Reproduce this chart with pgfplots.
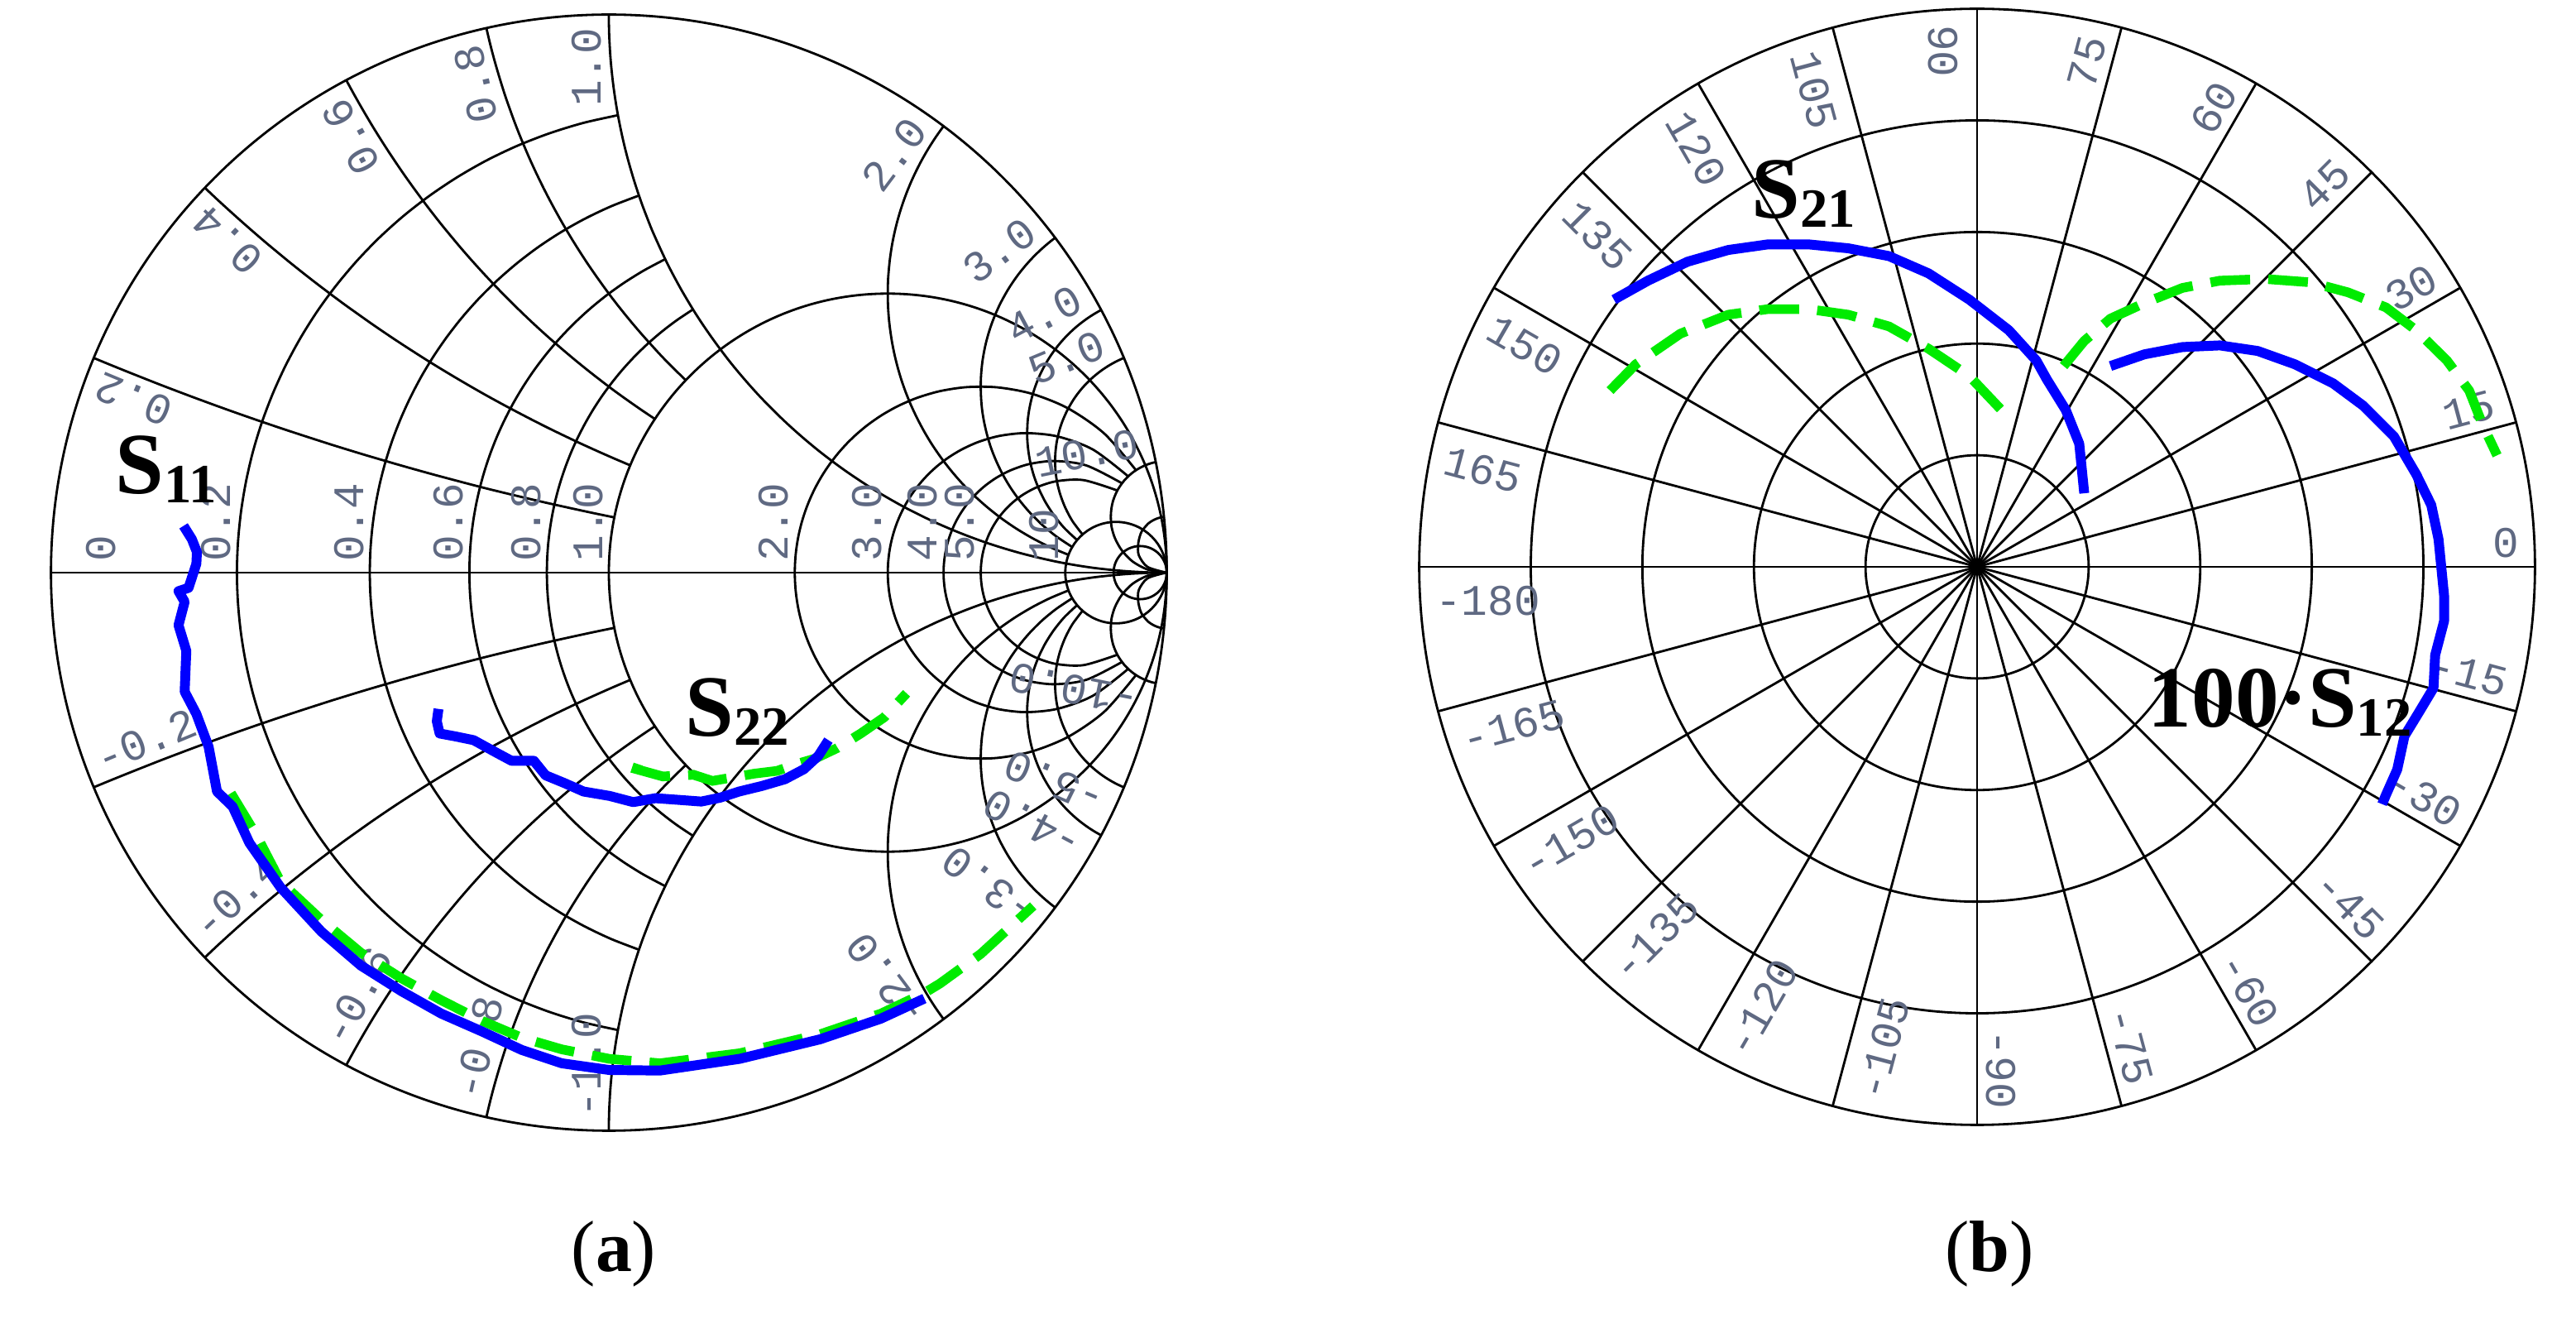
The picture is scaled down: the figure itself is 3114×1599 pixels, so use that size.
\documentclass[border=0pt]{standalone}
\usepackage{fontspec}
\setmainfont{Liberation Serif}
\setmonofont{Liberation Mono}
\usepackage{pgfplots}
\pgfplotsset{compat=1.18}
\definecolor{ticklab}{RGB}{95,105,130}
\definecolor{datablue}{RGB}{0,0,255}
\definecolor{datagreen}{RGB}{0,235,0}
\newcommand{\sname}[2]{{\fontsize{30}{30}\selectfont\bfseries #1\raisebox{-3pt}{\fontsize{19}{19}\selectfont #2}}}
\pgfplotsset{
  meas/.style={datablue,line width=3.4pt,line join=round},
  model/.style={datagreen,line width=3.3pt,dash pattern=on 0.48cm off 0.22cm}}

\begin{document}
\begin{tikzpicture}[x=0.01cm,y=0.01cm,
  declare function={
    rcre(\u,\v)=((\u)*(\u)-1+(\v)*(\v))/(((\u)+1)*((\u)+1)+(\v)*(\v));
    rcim(\u,\v)=2*(\v)/(((\u)+1)*((\u)+1)+(\v)*(\v));
    xare(\u,\v)=((\u)*(\u)-(1-(\u))*(1-(\u))*(1-(\v)*(\v)))/(1+(\v)*(\v)*(1-(\u))*(1-(\u)));
    xaim(\u,\v)=2*(\v)*(1-(\u))*(1-(\u))/(1+(\v)*(\v)*(1-(\u))*(1-(\u)));
  },
  lab/.style={font=\ttfamily\fontsize{15}{15}\selectfont,text=ticklab,inner xsep=0.08cm,inner ysep=0.08cm}]
\useasboundingbox (0,0) rectangle (3114,1599);

% ---- Smith chart grid (a)
\begin{scope}[shift={(736,907)},x=6.74cm,y=6.74cm,line width=0.8pt]
  \draw (0,0) circle[radius=1];
  \draw (-1,0) -- (1,0);
  \foreach \r in {0.2,0.4,0.6,0.8}
    \draw plot[domain=-45:45,samples=41,smooth,variable=\s] ({rcre(\r,tan(\s))},{rcim(\r,tan(\s))});
  \draw (0.5,0) circle[radius=0.5];
  \foreach \r in {2,3,4,5}
    \draw plot[domain=-84.29:84.29,samples=61,smooth,variable=\s] ({rcre(\r,tan(\s))},{rcim(\r,tan(\s))});
  \foreach \r in {10,20}
    \draw ({\r/(1+\r)},0) circle[radius={1/(1+\r)}];
  \foreach \q in {0.2,0.4,0.6,0.8,-0.2,-0.4,-0.6,-0.8}
    \draw plot[domain=0:0.5,samples=31,smooth,variable=\t] ({xare(\t,\q)},{xaim(\t,\q)});
  \foreach \q in {2,3,4,5,-2,-3,-4,-5}
    \draw plot[domain=0:0.909,samples=51,smooth,variable=\t] ({xare(\t,\q)},{xaim(\t,\q)});
  \foreach \q in {1,-1,10,-10,20,-20}
    \draw plot[domain=0:1,samples=61,smooth,variable=\t] ({xare(\t,\q)},{xaim(\t,\q)});
  % reactance labels
  \foreach \a/\l in {157.4/0.2,136.4/0.4,118.1/0.6,102.7/0.8,90/1.0,53.1/2.0,36.9/3.0,28.1/4.0,22.6/5.0,11.4/10.0}{
    \node[lab,rotate=\a,anchor=south east] at (\a:0.99) {\l};
    \node[lab,rotate=180-\a,anchor=south west] at (-\a:0.99) {-\l};
  }
  % resistance labels
  \foreach \g/\l in {-0.873/0,-0.6667/0.2,-0.4286/0.4,-0.25/0.6,-0.1111/0.8,0/1.0,0.3333/2.0,0.5/3.0,0.6/4.0,0.6667/5.0,0.8182/10}
    \node[lab,rotate=90,anchor=south west,inner xsep=0.12cm,inner ysep=0.06cm] at (\g,0) {\l};
\end{scope}

% ---- polar grid (b)
\begin{scope}[shift={(2390,914)},x=6.74cm,y=6.74cm,line width=0.8pt]
  \foreach \k in {0.2,0.4,0.6,0.8,1}
    \draw (0,0) circle[radius=\k];
  \foreach \a in {0,15,...,345}
    \draw (0,0) -- (\a:1);
  \foreach \a in {-90,-75,...,75}
    \node[lab,rotate=\a,anchor=south east,inner ysep=0.1cm] at (\a:0.985) {\a};
  \foreach \a in {90,105,...,165,-165,-150,...,-105}
    \node[lab,rotate=\a+180,anchor=north west,inner ysep=0.22cm] at (\a:0.985) {\a};
  \node[lab,rotate=0,anchor=north west,inner ysep=0.22cm] at (180:0.985) {-180};
\end{scope}

% ---- data (a): S11 and S22, measured (solid) and model (dashed)
\begin{axis}[at={(7.36cm,9.07cm)},anchor=center,x=6.74cm,y=6.74cm,
  xmin=-1,xmax=1,ymin=-1,ymax=1,hide axis,clip=false,no markers]
\addplot[model] coordinates {
(-0.678,-0.396) (-0.632,-0.472) (-0.589,-0.555) (-0.516,-0.623) (-0.445,-0.682)
(-0.372,-0.728) (-0.301,-0.767) (-0.228,-0.804) (-0.157,-0.834) (-0.085,-0.855)
(0.000,-0.872) (0.091,-0.880) (0.234,-0.862) (0.378,-0.828) (0.487,-0.791)
(0.565,-0.754) (0.593,-0.737) (0.666,-0.684) (0.760,-0.598)};
\addplot[meas] coordinates {
(-0.763,0.083) (-0.748,0.059) (-0.739,0.036) (-0.740,0.015) (-0.754,-0.028)
(-0.772,-0.034) (-0.761,-0.053) (-0.772,-0.095) (-0.758,-0.141) (-0.761,-0.214)
(-0.740,-0.254) (-0.718,-0.313) (-0.703,-0.393) (-0.675,-0.420) (-0.645,-0.485)
(-0.589,-0.565) (-0.516,-0.644) (-0.445,-0.705) (-0.372,-0.751) (-0.301,-0.791)
(-0.228,-0.823) (-0.157,-0.856) (-0.085,-0.880) (0.000,-0.892) (0.091,-0.893)
(0.234,-0.872) (0.378,-0.837) (0.487,-0.800) (0.565,-0.764)};
\addplot[model] coordinates {
(0.052,-0.344) (0.049,-0.353) (0.096,-0.366) (0.151,-0.363) (0.185,-0.374)
(0.220,-0.368) (0.260,-0.361) (0.301,-0.356) (0.335,-0.344) (0.369,-0.334)
(0.409,-0.315) (0.451,-0.289) (0.493,-0.260) (0.533,-0.217)};
\addplot[meas] coordinates {
(-0.306,-0.245) (-0.309,-0.267) (-0.304,-0.289) (-0.277,-0.294) (-0.243,-0.301)
(-0.203,-0.323) (-0.175,-0.338) (-0.135,-0.338) (-0.114,-0.364) (-0.080,-0.378)
(-0.046,-0.393) (0.001,-0.401) (0.043,-0.412) (0.083,-0.405) (0.125,-0.408)
(0.165,-0.411) (0.199,-0.404) (0.233,-0.393) (0.274,-0.383) (0.315,-0.371)
(0.349,-0.353) (0.375,-0.329) (0.393,-0.301)};
\end{axis}

% ---- data (b): S21 and 100*S12
\begin{axis}[at={(23.90cm,9.14cm)},anchor=center,x=6.74cm,y=6.74cm,
  xmin=-1,xmax=1,ymin=-1,ymax=1,hide axis,clip=false,no markers]
\addplot[model] coordinates {
(-0.660,0.315) (-0.614,0.362) (-0.534,0.417) (-0.448,0.451) (-0.377,0.461)
(-0.304,0.461) (-0.233,0.451) (-0.160,0.430) (-0.089,0.390) (-0.016,0.341)
(0.055,0.266)};
\addplot[meas] coordinates {
(-0.653,0.478) (-0.592,0.512) (-0.521,0.546) (-0.448,0.567) (-0.377,0.577)
(-0.304,0.577) (-0.233,0.570) (-0.160,0.556) (-0.089,0.525) (-0.016,0.478)
(0.055,0.423) (0.104,0.369) (0.123,0.335) (0.157,0.280) (0.181,0.220)
(0.190,0.131)};
\addplot[model] coordinates {
(0.153,0.359) (0.190,0.404) (0.237,0.444) (0.298,0.472) (0.366,0.499)
(0.433,0.512) (0.515,0.515) (0.596,0.509) (0.663,0.491) (0.731,0.464)
(0.785,0.423) (0.840,0.369) (0.880,0.315) (0.904,0.254) (0.930,0.199)};
\addplot[meas] coordinates {
(0.237,0.359) (0.298,0.380) (0.366,0.393) (0.433,0.396) (0.501,0.386)
(0.568,0.362) (0.636,0.328) (0.690,0.288) (0.745,0.233) (0.785,0.165)
(0.812,0.110) (0.825,0.049) (0.835,-0.052) (0.835,-0.098) (0.819,-0.159)
(0.816,-0.218) (0.792,-0.258) (0.764,-0.304) (0.751,-0.364) (0.731,-0.409)
(0.724,-0.426)};
\end{axis}

% ---- curve names and panel letters
\node[anchor=base west,inner sep=0pt] at (139,1002) {\sname{S}{11}};
\node[anchor=base west,inner sep=0pt] at (828,709) {\sname{S}{22}};
\node[anchor=base west,inner sep=0pt] at (2117,1335) {\sname{S}{21}};
\node[anchor=base west,inner sep=0pt] at (2596,720) {\sname{100·S}{12}};
\node[font=\fontsize{25}{25}\selectfont] at (742,84) {(\textbf{a})};
\node[font=\fontsize{25}{25}\selectfont] at (2405,84) {(\textbf{b})};
\end{tikzpicture}
\end{document}
